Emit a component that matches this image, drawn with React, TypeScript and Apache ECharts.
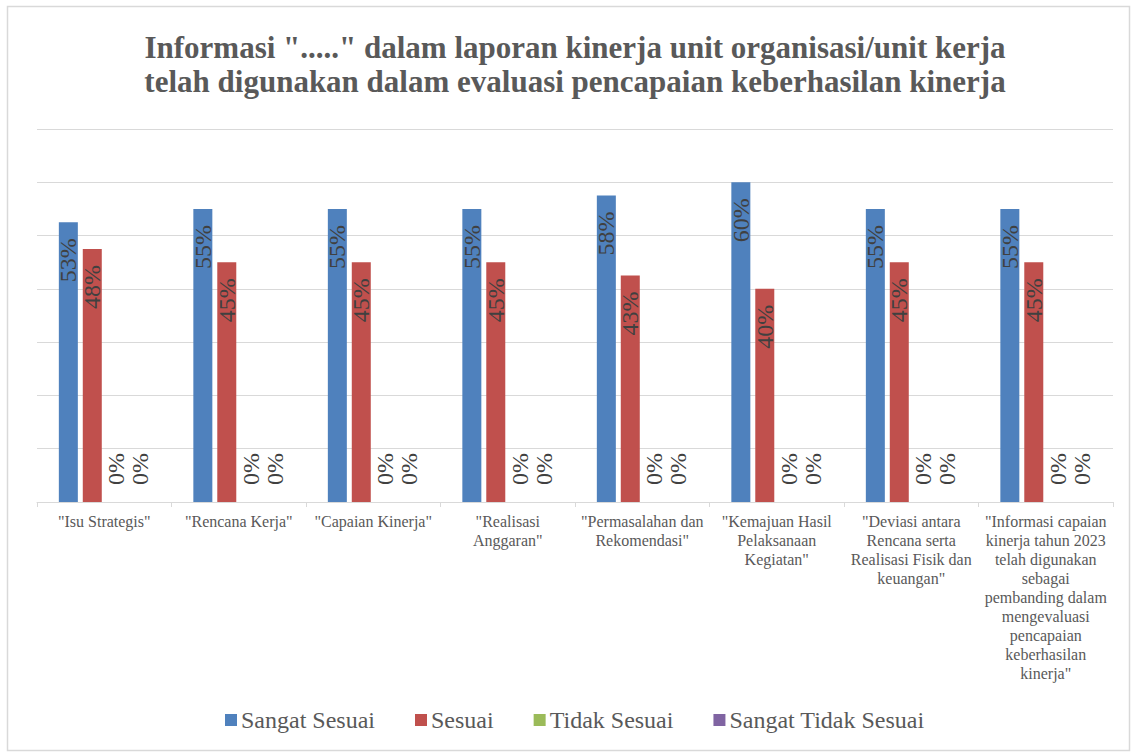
import React, { useEffect, useRef } from "react";
import * as echarts from "echarts";

const categories: string[] = [
  '"Isu Strategis"',
  '"Rencana Kerja"',
  '"Capaian Kinerja"',
  '"Realisasi\nAnggaran"',
  '"Permasalahan dan\nRekomendasi"',
  '"Kemajuan Hasil\nPelaksanaan\nKegiatan"',
  '"Deviasi antara\nRencana serta\nRealisasi Fisik dan\nkeuangan"',
  '"Informasi capaian\nkinerja tahun 2023\ntelah digunakan\nsebagai\npembanding dalam\nmengevaluasi\npencapaian\nkeberhasilan\nkinerja"',
];

const seriesNames: string[] = ["Sangat Sesuai", "Sesuai", "Tidak Sesuai", "Sangat Tidak Sesuai"];

const sangatSesuai: number[] = [52.5, 55, 55, 55, 57.5, 60, 55, 55];
const sesuai: number[] = [47.5, 45, 45, 45, 42.5, 40, 45, 45];
const tidakSesuai: number[] = [0, 0, 0, 0, 0, 0, 0, 0];
const sangatTidakSesuai: number[] = [0, 0, 0, 0, 0, 0, 0, 0];

const colors: string[] = ["#4F81BD", "#C0504D", "#9BBB59", "#8064A2"];

const titleLines: string[] = [
  'Informasi "....." dalam laporan kinerja unit organisasi/unit kerja',
  "telah digunakan dalam evaluasi pencapaian keberhasilan kinerja",
];

const FONT = "'Liberation Serif', 'DejaVu Serif', serif";

export default function App() {
  const ref = useRef<HTMLDivElement>(null);

  useEffect(() => {
    if (!ref.current) return;
    const chart = echarts.init(ref.current, null, { renderer: "svg" });

    const dataSets = [sangatSesuai, sesuai, tidakSesuai, sangatTidakSesuai];

    const labelFor = (i: number) => {
      const base = {
        show: true,
        rotate: 90,
        fontFamily: FONT,
        fontSize: 24,
        color: "#404040",
        verticalAlign: "middle" as const,
        formatter: (p: any) => Math.round(p.value) + "%",
      };
      if (i < 2) {
        return { ...base, position: "insideTop" as const, distance: 16, align: "right" as const };
      }
      return { ...base, position: "insideBottom" as const, distance: 17, align: "left" as const };
    };

    chart.setOption({
      animation: false,
      backgroundColor: "#ffffff",
      legend: {
        data: seriesNames,
        top: 703,
        left: 220,
        icon: "rect",
        itemWidth: 12,
        itemHeight: 12,
        itemGap: 40,
        textStyle: { fontFamily: FONT, fontSize: 24, color: "#595959", padding: [0, 0, 0, -1] },
      },
      grid: { left: 37, right: 21, top: 129, bottom: 251, containLabel: false },
      xAxis: {
        type: "category",
        data: categories,
        axisLine: { show: true, lineStyle: { color: "#d9d9d9", width: 1 } },
        axisTick: { show: true, length: 5, lineStyle: { color: "#d9d9d9" } },
        axisLabel: {
          interval: 0,
          fontFamily: FONT,
          fontSize: 16,
          lineHeight: 19,
          color: "#595959",
          margin: 10,
          align: "center",
        },
      },
      yAxis: {
        type: "value",
        min: 0,
        max: 70,
        interval: 10,
        axisLabel: { show: false },
        axisLine: { show: false },
        axisTick: { show: false },
        splitLine: { show: true, lineStyle: { color: "#d9d9d9", width: 1 } },
      },
      series: dataSets.map((d, i) => ({
        name: seriesNames[i],
        type: "bar",
        data: d,
        barWidth: 19,
        barGap: "26%",
        itemStyle: { color: colors[i] },
        label: labelFor(i),
      })),
      graphic: [
        {
          type: "rect",
          shape: { x: 7.5, y: 6.5, width: 1122, height: 744 },
          style: { fill: "none", stroke: "#d9d9d9", lineWidth: 1.5 },
          silent: true,
        },
        ...titleLines.map((t, i) => ({
          type: "text",
          x: 575,
          y: 47 + i * 34,
          silent: true,
          style: {
            text: t,
            fontFamily: FONT,
            fontWeight: "bold",
            fontSize: 31,
            fill: "#595959",
            textAlign: "center",
            textVerticalAlign: "middle",
          },
        })),
      ],
    });

    return () => {
      chart.dispose();
    };
  }, []);

  return (
    <div
      ref={ref}
      style={{ position: "fixed", left: 0, top: 0, width: 1134, height: 753 }}
    />
  );
}
